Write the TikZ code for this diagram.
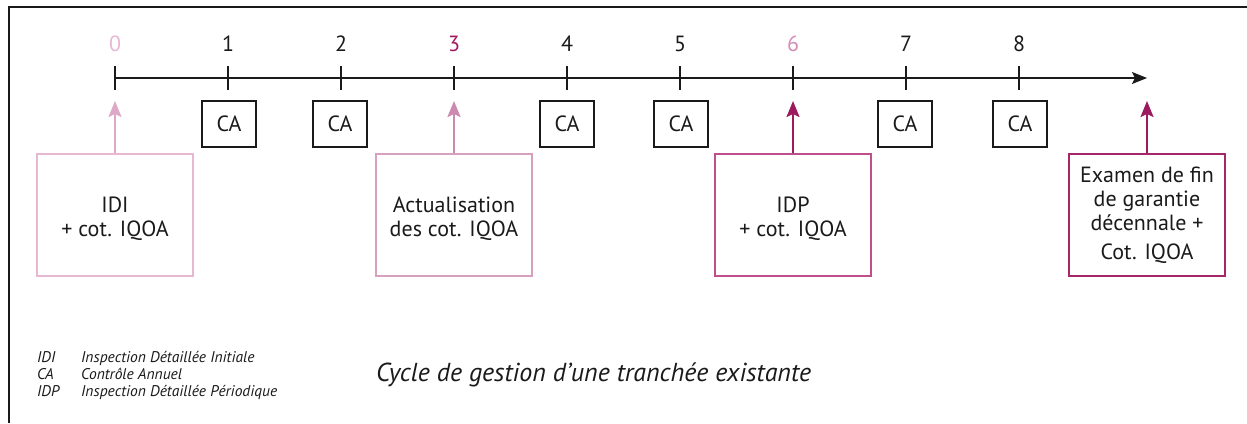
\documentclass[tikz,border=0pt]{standalone}
\usepackage{fontspec}
\setmainfont{PT Sans}
\usetikzlibrary{arrows.meta}
\definecolor{txt}{HTML}{1A1A1A}
\definecolor{pinkL}{HTML}{E6B8D2}
\definecolor{pinkLA}{HTML}{DDA9C7}
\definecolor{pinkM}{HTML}{D7A0BF}
\definecolor{pinkMA}{HTML}{CC8AB0}
\definecolor{pinkN}{HTML}{D68CB4}
\definecolor{magD}{HTML}{A3195F}
\definecolor{magB}{HTML}{BE4F8B}
\definecolor{magE}{HTML}{A6266A}
\definecolor{magA}{HTML}{9C1B5E}
\tikzset{
  frame/.style={draw=txt, line width=1.4pt},
  axis/.style={draw=txt, line width=1.3pt, -{Stealth[length=15pt,width=12pt,inset=3pt]}},
  tick/.style={draw=txt, line width=1.3pt},
  num/.style={font=\fontsize{22}{24}\selectfont, text=txt, inner sep=0pt},
  cabox/.style={draw=txt, line width=1.4pt, minimum width=54pt, minimum height=46pt, inner sep=0pt, font=\fontsize{22}{24}\selectfont, text=txt},
  bigbox/.style={line width=1.8pt, minimum width=156pt, minimum height=122pt, inner sep=0pt},
  boxtext/.style={inner sep=0pt, align=center, font=\fontsize{22}{24}\selectfont, text=txt},
  uparrow/.style={line width=2pt, -{Stealth[length=16pt,width=13pt,inset=3pt]}},
  legab/.style={anchor=base west, inner sep=0pt, font=\fontsize{15.5}{17}\selectfont\itshape, text=txt},
  caption/.style={anchor=base west, inner sep=0pt, font=\fontsize{26}{28}\selectfont\itshape, text=txt}
}
\begin{document}
\begin{tikzpicture}[x=1pt,y=-1pt]
\useasboundingbox (0,0) rectangle (1247,423);
% frame (top and left)
\coordinate (fr1) at (1247,7);
\coordinate (fr2) at (9,7);
\coordinate (fr3) at (9,423);
\draw[frame] (fr1) -- (fr2) -- (fr3);
% axis
\coordinate (astart) at (115,78);
\coordinate (aend) at (1147,78);
\draw[axis] (astart) -- (aend);
% ticks and numbers
\foreach \i in {0,...,8}{
  \coordinate (tt\i) at ({115+113*\i},66);
  \coordinate (tb\i) at ({115+113*\i},90);
  \draw[tick] (tt\i) -- (tb\i);
}
\node[num, text=pinkL] (n0) at (115,44) {0};
\node[num] (n1) at (228,44) {1};
\node[num] (n2) at (341,44) {2};
\node[num, text=magD] (n3) at (454,44) {3};
\node[num] (n4) at (567,44) {4};
\node[num] (n5) at (680,44) {5};
\node[num, text=pinkN] (n6) at (793,44) {6};
\node[num] (n7) at (906,44) {7};
\node[num] (n8) at (1019,44) {8};
% CA boxes
\node[cabox] (ca1) at (229,124) {CA};
\node[cabox] (ca2) at (340,124) {CA};
\node[cabox] (ca4) at (567,124) {CA};
\node[cabox] (ca5) at (681,124) {CA};
\node[cabox] (ca7) at (905,124) {CA};
\node[cabox] (ca8) at (1020,124) {CA};
% big boxes
\node[bigbox, draw=pinkL] (idi) at (115,215) {};
\node[bigbox, draw=pinkM] (act) at (454,215) {};
\node[bigbox, draw=magB] (idp) at (793,215) {};
\node[bigbox, draw=magE] (exa) at (1147,215) {};
\node[boxtext] (idit) at ([yshift=-4pt]idi.center) {IDI\\+ cot. IQOA};
\node[boxtext] (actt) at ([yshift=-4pt]act.center) {Actualisation\\des cot. IQOA};
\node[boxtext] (idpt) at ([yshift=-4pt]idp.center) {IDP\\+ cot. IQOA};
\node[boxtext] (exat) at (exa.center) {Examen de fin\\de garantie\\décennale +\\[5pt]Cot. IQOA};
% arrow targets
\coordinate (p0) at (115,101);
\coordinate (p3) at (454,101);
\coordinate (p6) at (793,101);
\coordinate (p9) at (1147,101);
\draw[uparrow, draw=pinkLA, fill=pinkLA] (idi.north) -- (p0);
\draw[uparrow, draw=pinkMA, fill=pinkMA] (act.north) -- (p3);
\draw[uparrow, draw=magA, fill=magA] (idp.north) -- (p6);
\draw[uparrow, draw=magA, fill=magA] (exa.north) -- (p9);
% legend
\node[legab] (l1a) at (37,362) {IDI};
\node[legab] (l1b) at (81,362) {Inspection Détaillée Initiale};
\node[legab] (l2a) at (37,379) {CA};
\node[legab] (l2b) at (81,379) {Contrôle Annuel};
\node[legab] (l3a) at (37,396) {IDP};
\node[legab] (l3b) at (81,396) {Inspection Détaillée Périodique};
\node[caption] (cap) at (376,381) {Cycle de gestion d’une tranchée existante};
\end{tikzpicture}
\end{document}
